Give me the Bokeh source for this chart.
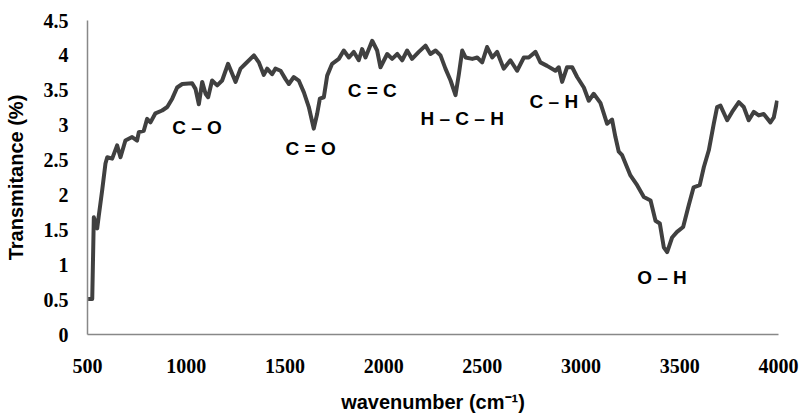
from bokeh.plotting import figure
from bokeh.models import Range1d, FixedTicker, ColumnDataSource
from bokeh.core.properties import value
from bokeh.embed import file_html
from bokeh.resources import INLINE

wavenumber = [503, 524, 532, 549, 557, 574, 591, 600, 625, 650, 667, 692, 726, 751, 760, 785,
              802, 819, 844, 878, 904, 929, 954, 980, 1030, 1047, 1064, 1081, 1098, 1111, 1131,
              1157, 1182, 1212, 1250, 1275, 1300, 1343, 1368, 1393, 1410, 1435, 1452, 1478, 1503,
              1520, 1545, 1570, 1596, 1621, 1646, 1663, 1677, 1697, 1714, 1739, 1773, 1798, 1824,
              1849, 1874, 1891, 1908, 1942, 1967, 1984, 2018, 2043, 2069, 2094, 2119, 2144, 2178,
              2212, 2237, 2263, 2288, 2313, 2339, 2364, 2381, 2398, 2415, 2449, 2474, 2499, 2524,
              2550, 2575, 2608, 2642, 2676, 2710, 2735, 2769, 2794, 2828, 2870, 2887, 2904, 2929,
              2955, 2980, 3014, 3039, 3064, 3098, 3132, 3157, 3174, 3191, 3208, 3250, 3284, 3318,
              3352, 3377, 3399, 3419, 3436, 3461, 3486, 3517, 3545, 3570, 3601, 3622, 3647, 3672,
              3689, 3706, 3740, 3765, 3799, 3824, 3849, 3875, 3900, 3925, 3959, 3976, 3993]
transmittance = [0.51, 0.51, 1.68, 1.52, 1.70, 2.06, 2.45, 2.54, 2.52, 2.71, 2.54, 2.78, 2.83, 2.78, 2.90, 2.92,
                 3.09, 3.04, 3.17, 3.21, 3.26, 3.38, 3.54, 3.59, 3.60, 3.52, 3.30, 3.62, 3.45, 3.40, 3.64,
                 3.57, 3.64, 3.88, 3.62, 3.81, 3.88, 4.00, 3.90, 3.72, 3.81, 3.73, 3.81, 3.78, 3.66,
                 3.59, 3.69, 3.64, 3.47, 3.26, 2.95, 3.16, 3.38, 3.40, 3.71, 3.88, 3.95, 4.07, 3.97,
                 4.05, 3.93, 4.09, 3.97, 4.21, 4.07, 3.83, 4.02, 3.95, 4.02, 3.93, 4.07, 3.95, 4.05,
                 4.14, 4.02, 4.07, 4.00, 3.81, 3.64, 3.43, 3.73, 4.07, 3.97, 3.95, 3.97, 3.90, 4.12,
                 3.97, 4.05, 3.81, 3.93, 3.78, 3.97, 3.97, 4.05, 3.90, 3.85, 3.78, 3.83, 3.62, 3.83,
                 3.83, 3.69, 3.54, 3.35, 3.45, 3.32, 3.02, 3.08, 2.83, 2.62, 2.57, 2.28, 2.14, 1.97,
                 1.92, 1.63, 1.59, 1.25, 1.18, 1.39, 1.47, 1.54, 1.85, 2.11, 2.14, 2.40, 2.64, 3.02,
                 3.26, 3.28, 3.07, 3.19, 3.33, 3.26, 3.07, 3.19, 3.14, 3.16, 3.04, 3.11, 3.35]

label_text = ["C \u2013 O", "C = O", "C = C", "H \u2013 C \u2013 H", "C \u2013 H", "O \u2013 H"]
label_x = [1055, 1630, 1942, 2398, 2862, 3410]
label_y = [2.97, 2.66, 3.50, 3.09, 3.34, 0.81]

x_ticks = [500, 1000, 1500, 2000, 2500, 3000, 3500, 4000]
y_ticks = [0, 0.5, 1, 1.5, 2, 2.5, 3, 3.5, 4, 4.5]
y_tick_labels = ["0", "0.5", "1", "1.5", "2", "2.5", "3", "3.5", "4", "4.5"]

p = figure(width=801, height=415, output_backend="svg", toolbar_location=None,
           x_range=Range1d(500, 4000), y_range=Range1d(0, 4.5),
           min_border_left=87, min_border_right=23, min_border_top=20, min_border_bottom=81)
p.outline_line_color = None
p.xgrid.grid_line_color = None
p.ygrid.grid_line_color = None

p.line(wavenumber, transmittance, line_color="#404040", line_width=4, line_join="round")

src = ColumnDataSource(dict(x=label_x, y=label_y, t=label_text))
p.text(x="x", y="y", text="t", source=src, text_font=value("Liberation Sans"),
       text_font_style="bold", text_font_size="19px", text_align="center",
       text_baseline="middle", text_color="#000000")

for ax in (p.xaxis[0], p.yaxis[0]):
    ax.axis_line_color = "#888888"
    ax.axis_line_width = 1.5
    ax.major_tick_line_color = None
    ax.minor_tick_line_color = None
    ax.major_tick_out = 0
    ax.major_tick_in = 0
    ax.major_label_text_font = "Liberation Serif"
    ax.major_label_text_font_style = "bold"
    ax.major_label_text_font_size = "20px"
    ax.major_label_text_color = "#000000"
    ax.axis_label_text_font = "Liberation Sans"
    ax.axis_label_text_font_style = "bold"
    ax.axis_label_text_font_size = "20px"
    ax.axis_label_text_color = "#000000"

p.xaxis.ticker = FixedTicker(ticks=x_ticks)
p.yaxis.ticker = FixedTicker(ticks=y_ticks)
p.yaxis.major_label_overrides = {t: l for t, l in zip(y_ticks, y_tick_labels)}
p.xaxis.major_label_standoff = 24
p.yaxis.major_label_standoff = 19
p.xaxis.axis_label = "wavenumber (cm\u207b\u00b9)"
p.yaxis.axis_label = "Transmitance (%)"
p.xaxis.axis_label_standoff = 15
p.yaxis.axis_label_standoff = 14

open("out.html", "w").write(file_html(p, INLINE))
